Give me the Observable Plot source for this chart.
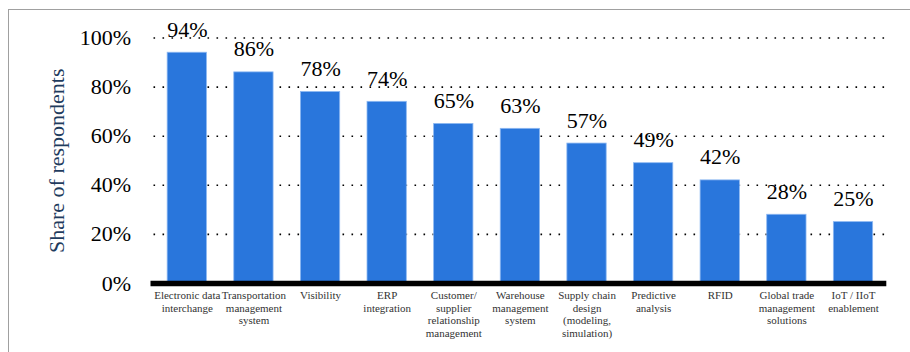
<!DOCTYPE html>
<html>
<head>
<meta charset="utf-8">
<script src="https://cdn.jsdelivr.net/npm/d3@7"></script>
<script src="https://cdn.jsdelivr.net/npm/@observablehq/plot@0.6"></script>
<style>
  html, body { margin: 0; padding: 0; background: #fff; width: 910px; height: 352px; overflow: hidden; }
  #wrap { position: relative; width: 910px; height: 352px; }
  #year { position: absolute; left: 9px; top: -21px; font-family: "Liberation Serif", "Times New Roman", serif; font-size: 24px; color: #000; }
  #frame { position: absolute; left: 8px; top: 9px; width: 910px; height: 400px; border-left: 1.5px solid #a0a0a0; border-top: 1.5px solid #a0a0a0; }
  #chart { position: absolute; left: 0; top: 0; }
  #chart svg, #chart svg text { font-family: "Liberation Serif", "Times New Roman", serif !important; }
</style>
</head>
<body>
<div id="wrap">
  <div id="year">2022</div>
  <div id="frame"></div>
  <div id="chart"></div>
</div>
<script>
const categories = [
  "Electronic data\ninterchange",
  "Transportation\nmanagement\nsystem",
  "Visibility",
  "ERP\nintegration",
  "Customer/\nsupplier\nrelationship\nmanagement",
  "Warehouse\nmanagement\nsystem",
  "Supply chain\ndesign\n(modeling,\nsimulation)",
  "Predictive\nanalysis",
  "RFID",
  "Global trade\nmanagement\nsolutions",
  "IoT / IIoT\nenablement"
];
const shares = [94, 86, 78, 74, 65, 63, 57, 49, 42, 28, 25];
const yTicks = [0, 20, 40, 60, 80, 100];
const yLabel = "Share of respondents";

const data = categories.map((c, i) => ({category: c, value: shares[i]}));
const serif = "Liberation Serif, Times New Roman, serif";

const chart = Plot.plot({
  width: 910,
  height: 352,
  marginLeft: 153.5,
  marginRight: 23.7,
  marginTop: 37.5,
  marginBottom: 69,
  style: {fontFamily: serif, background: "transparent", overflow: "visible"},
  x: {domain: categories, paddingInner: 0.41, paddingOuter: 0.205, round: false, label: null},
  y: {domain: [0, 100], label: null},
  marks: [
    Plot.ruleY(yTicks.filter(d => d > 0), {stroke: "#000", strokeWidth: 1.6, strokeDasharray: "1.6,7.4", strokeLinecap: "butt"}),
    Plot.barY(data, {x: "category", y: "value", fill: "#2976dc", stroke: "#8db8f2", strokeWidth: 0.8}),
    Plot.ruleY([0], {stroke: "#000", strokeWidth: 5.5, insetLeft: -3}),
    Plot.text(data, {x: "category", y: "value", text: d => d.value + "%", dy: -16, lineAnchor: "bottom", fontSize: 22, fontFamily: serif, fill: "#000"}),
    Plot.axisY({ticks: yTicks, tickFormat: d => d + "%", tickSize: 0, tickPadding: 23, fontSize: 22, fontFamily: serif, color: "#000", label: null}),
    Plot.axisX({tickSize: 0, tickPadding: 7, fontSize: 11, fontFamily: serif, lineHeight: 1.14, color: "#333", label: null}),
    Plot.text([yLabel], {frameAnchor: "left", dx: -97, rotate: -90, fontSize: 22, fontFamily: serif, fill: "#1f3c5e", textAnchor: "middle"})
  ]
});
document.getElementById("chart").appendChild(chart);
</script>
</body>
</html>
